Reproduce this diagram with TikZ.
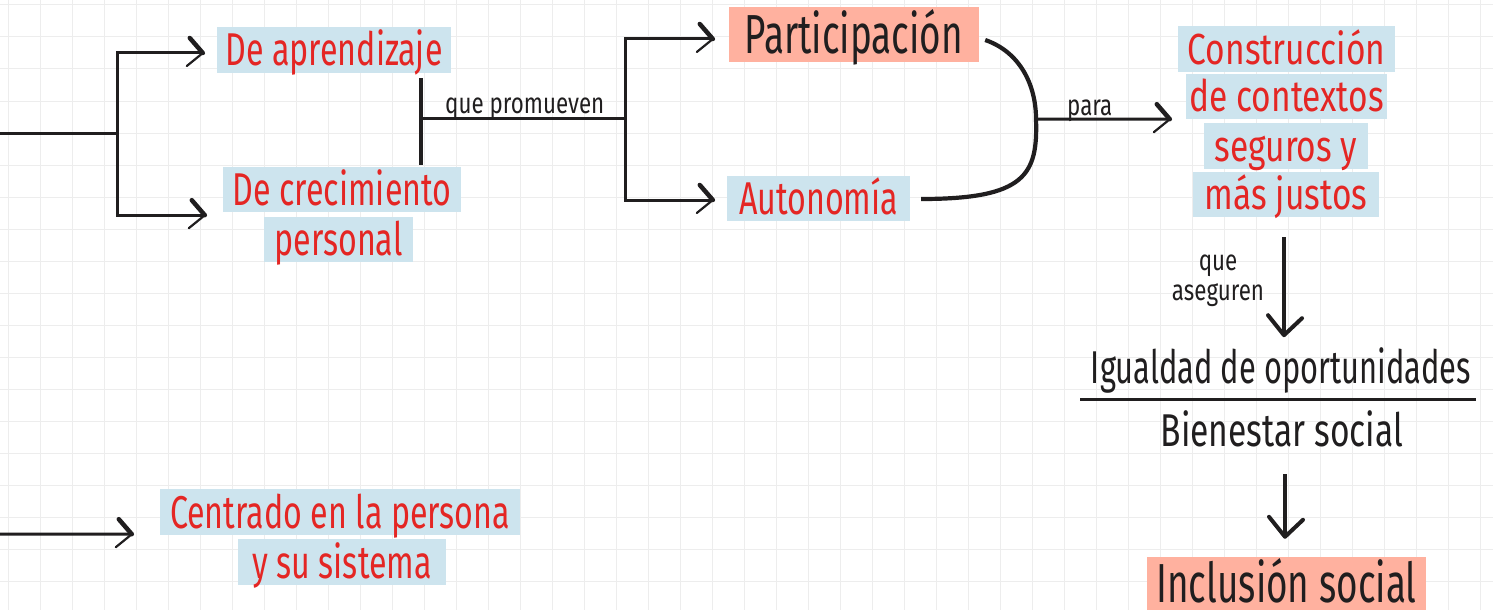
\documentclass[tikz,border=0pt]{standalone}
\usepackage{fontspec}
\setmainfont{Fira Sans}[FakeStretch=0.7]
\newfontfamily\colfont{Fira Sans}[FakeStretch=0.77]
\newfontfamily\ifont{Fira Sans}[FakeStretch=0.67]
\newfontfamily\bfontx{Fira Sans}[FakeStretch=0.73]
\newfontfamily\pfont{Fira Sans}[FakeStretch=0.67]
\newfontfamily\lblfont{Fira Sans}[FakeStretch=0.77]
\usetikzlibrary{calc}
\definecolor{gridc}{RGB}{237,237,237}
\definecolor{hlblue}{RGB}{205,228,238}
\definecolor{hlsalmon}{RGB}{255,177,159}
\definecolor{redc}{RGB}{228,38,36}
\definecolor{ink}{RGB}{32,30,31}
\tikzset{
  gridline/.style={draw=gridc, line width=1pt},
  bluebox/.style={fill=hlblue, text=redc, inner sep=0pt, text depth=0pt},
  salbox/.style={fill=hlsalmon, text=ink, inner sep=0pt, text depth=0pt},
  fsA/.style={font=\fontsize{46}{50}\selectfont, text height=32pt},
  fsB/.style={font=\colfont\fontsize{43.5}{48}\selectfont, text height=30pt},
  fsP/.style={font=\pfont\fontsize{55}{60}\selectfont, text height=38pt},
  fsI/.style={font=\ifont\fontsize{46}{50}\selectfont, text=ink, inner sep=0pt},
  fsBi/.style={font=\bfontx\fontsize{46}{50}\selectfont, text=ink, inner sep=0pt},
  lbl/.style={font=\lblfont\fontsize{29}{30}\selectfont, text=ink, inner sep=0pt},
  conn/.style={draw=ink, line width=3pt, line join=miter},
  bar/.style={draw=ink, line width=4.2pt},
  tipR/.pic={\draw[ink, line width=4.5pt, line cap=round] (-13,-15) -- (0,0);
             \draw[ink, line width=2.2pt, line cap=round] (0,0) -- (-16,13);},
  tipD/.pic={\draw[ink, line width=4pt, line cap=round, line join=round] (-16,-20) -- (0,0) -- (18,-17);}
}
\begin{document}
\begin{tikzpicture}[x=1pt,y=-1pt]
\useasboundingbox (0,0) rectangle (1493,610);
\fill[white] (0,0) rectangle (1493,610);
\foreach \gx in {8,40,...,1480} \draw[gridline] (\gx,0) -- (\gx,610);
\foreach \gy in {5,37,...,581} \draw[gridline] (0,\gy) -- (1493,\gy);

% nodes
\node[bluebox, fsA, minimum width=234, minimum height=46] (aprend) at (334,50) {De aprendizaje};
\node[bluebox, fsA, minimum width=238, minimum height=45] (crec) at (342,189.5) {De crecimiento};
\node[bluebox, fsA, minimum width=149, minimum height=45] (pers) at (338.5,239.5) {personal};
\node[salbox, fsP, minimum width=250, minimum height=55] (partic) at (854,34.5) {Participación};
\node[bluebox, fsA, minimum width=183, minimum height=45] (auton) at (818.5,198.5) {Autonomía};
\node[bluebox, fsB, minimum width=217, minimum height=46] (constr) at (1286.5,49) {Construcción};
\node[bluebox, fsB, minimum width=201, minimum height=45] (context) at (1286.5,96.5) {de contextos};
\node[bluebox, fsB, minimum width=164, minimum height=46] (seg) at (1286,146) {seguros y};
\node[bluebox, fsB, minimum width=186, minimum height=45] (justos) at (1286,194.5) {más justos};
\node[fsI, anchor=base] (igual) at (1281,383) {Igualdad de oportunidades};
\node[fsBi, anchor=base] (bien) at (1282,446) {Bienestar social};
\node[salbox, fsP, minimum width=279, minimum height=53] (incl) at (1286.5,583.5) {Inclusión social};
\node[bluebox, fsA, minimum width=360, minimum height=46] (centr) at (340,512) {Centrado en la persona};
\node[bluebox, fsA, minimum width=208, minimum height=46] (sist) at (342,562) {y su sistema};

% labels
\node[lbl, anchor=base west] (lprom) at (445,113) {que promueven};
\node[lbl, anchor=base west] (lpara) at (1067,115) {para};
\node[lbl, align=center] (laseg) at (1218,281) {que\\aseguren};

% left fork
\coordinate (inA) at (0,133);
\coordinate (jA) at (117,133);
\coordinate (tA) at ($(aprend.west)+(-14,3)$);
\coordinate (tB) at ($(crec.south west)+(-18,3)$);
\draw[conn] (inA) -- (jA);
\draw[conn] (tA) -- (tA -| jA) -- (tB -| jA) -- (tB) pic {tipR};
\pic at (tA) {tipR};

% bar + que promueven
\coordinate (b1) at ($(aprend.south east)+(-30,5)$);
\coordinate (b2) at ($(crec.north east)+(-40,-2)$);
\coordinate (j2) at ($(b1)!0.47!(b2)$);
\coordinate (j3) at ($(j2)+(204,0)$);
\draw[bar] (b1) -- (b2);
\draw[conn] (j2) -- (j3);
\coordinate (tC) at ($(partic.west)+(-16,4.5)$);
\coordinate (tD) at ($(auton.west)+(-14,1.5)$);
\draw[conn] (tC) -- (tC -| j3) -- (tD -| j3) -- (tD) pic {tipR};
\pic at (tC) {tipR};

% curve + para
\coordinate (c1) at ($(partic.east)+(6,5.5)$);
\coordinate (c3) at ($(auton.east)+(11,0.5)$);
\coordinate (c2) at (1036,119);
\draw[bar] (c1) .. controls (1020,52) and (1036,85) .. (c2) .. controls (1038,175) and (1025,199) .. (c3);
\coordinate (tE) at ($(context.south west)+(-16,0)$);
\draw[conn] (c2) -- (tE) pic {tipR};

% down arrows
\coordinate (d1) at ($(justos.south)+(-2,20)$);
\coordinate (d2) at ($(justos.south)+(-2,118)$);
\draw[bar] (d1) -- (d2) pic {tipD};
\draw[conn] ($(igual.base)+(-201,16)$) -- ($(igual.base)+(195,16)$);
\coordinate (d3) at ($(bien.base)+(3,28)$);
\coordinate (d4) at ($(incl.north)+(-1.5,-20)$);
\draw[bar] (d3) -- (d4) pic {tipD};

% bottom left
\coordinate (inF) at (0,534);
\coordinate (tF) at ($(centr.south west)+(-28,-1)$);
\draw[conn] (inF) -- (tF) pic {tipR};
\end{tikzpicture}
\end{document}
